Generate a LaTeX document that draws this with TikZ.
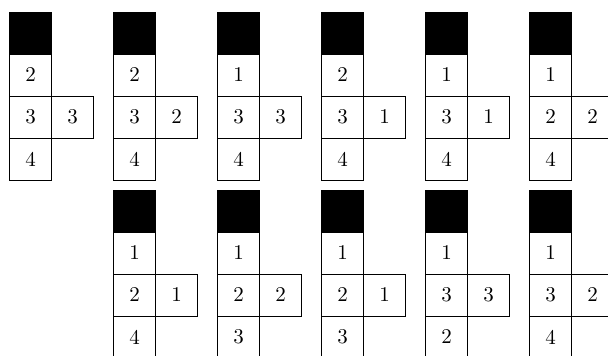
\documentclass[tikz,border=0pt]{standalone}
\usepackage{graphicx}
\tikzset{
  cell/.style={draw, line width=0.9pt, minimum width=42pt, minimum height=42pt,
    inner sep=0pt, outer sep=0pt},
  blk/.style={cell, fill=black}
}
\newcommand\dgt[1]{\scalebox{2.1}{#1}}
\newcommand\tfig[7]{%
  \node[blk, anchor=north west] (#3k) at (#1,#2) {};
  \node[cell, anchor=north] (#3a) at (#3k.south) {\dgt{#4}};
  \node[cell, anchor=north] (#3b) at (#3a.south) {\dgt{#5}};
  \node[cell, anchor=north] (#3c) at (#3b.south) {\dgt{#6}};
  \node[cell, anchor=west] (#3r) at (#3b.east) {\dgt{#7}};
}
\begin{document}
\begin{tikzpicture}[x=1pt, y=-1pt]
\useasboundingbox (0,0) rectangle (608,356);
\clip (0,0) rectangle (608,356);
\tfig{9.5}{12}{ta}{2}{3}{4}{3}
\tfig{113.5}{12}{tb}{2}{3}{4}{2}
\tfig{217.5}{12}{tc}{1}{3}{4}{3}
\tfig{321.5}{12}{td}{2}{3}{4}{1}
\tfig{425.5}{12}{te}{1}{3}{4}{1}
\tfig{529.5}{12}{tf}{1}{2}{4}{2}
\tfig{113.5}{190}{ba}{1}{2}{4}{1}
\tfig{217.5}{190}{bb}{1}{2}{3}{2}
\tfig{321.5}{190}{bc}{1}{2}{3}{1}
\tfig{425.5}{190}{bd}{1}{3}{2}{3}
\tfig{529.5}{190}{be}{1}{3}{4}{2}
\end{tikzpicture}
\end{document}
